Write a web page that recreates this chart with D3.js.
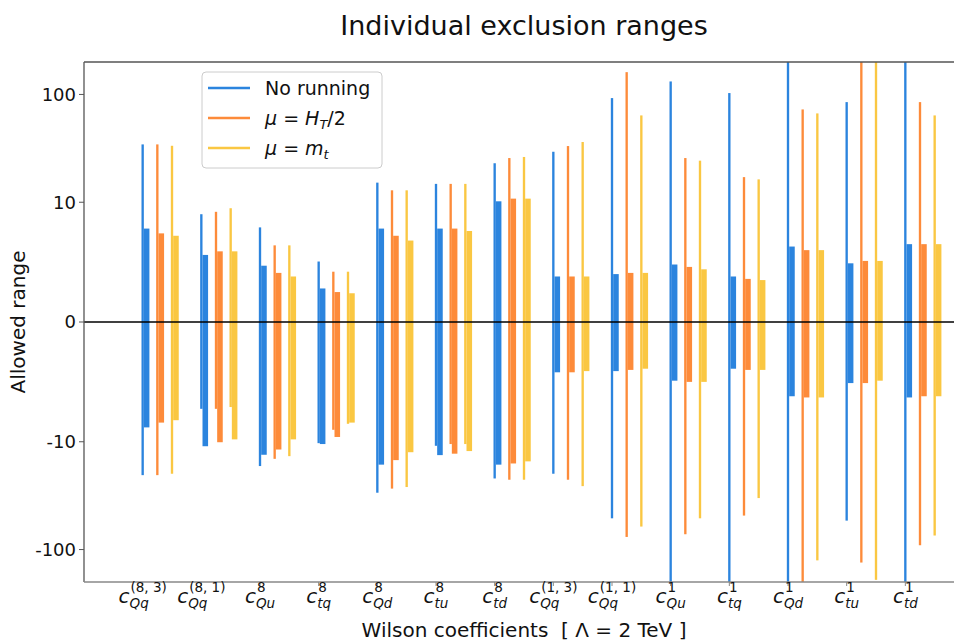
<!DOCTYPE html>
<html>
<head>
<meta charset="utf-8">
<script src="https://cdn.jsdelivr.net/npm/d3@7"></script>
<style>
  body { margin: 0; background: #fff; }
  svg { font-family: "DejaVu Sans", sans-serif; }
</style>
</head>
<body>
<svg width="954" height="641"></svg>
<script>
// tick labels: c_{sub}^{sup}
var labelSup = ["(8, 3)", "(8, 1)", "8", "8", "8", "8", "8", "(1, 3)", "(1, 1)", "1", "1", "1", "1", "1"];
var labelSub = ["Qq", "Qq", "Qu", "tq", "Qd", "tu", "td", "Qq", "Qq", "Qu", "tq", "Qd", "tu", "td"];
var yTicks = [-100, -10, 0, 10, 100];

// No running: thin line range and thick bar range
var noRunLineHi = [34.4, 9.0, 7.9, 5.05, 15.2, 14.8, 23.0, 29.4, 92.5, 132, 103, 250, 84.9, 250];
var noRunLineLo = [-20.4, -7.25, -16.8, -10.3, -29.7, -10.9, -21.9, -19.8, -51.3, -250, -250, -250, -53.9, -250];
var noRunBarHi = [7.8, 5.6, 4.7, 2.8, 7.8, 7.8, 10.2, 3.8, 4.0, 4.8, 3.8, 6.3, 4.9, 6.5];
var noRunBarLo = [-8.8, -11.0, -13.2, -10.5, -16.3, -13.3, -16.3, -4.2, -4.1, -4.9, -3.9, -6.2, -5.1, -6.3];

// mu = H_T/2
var htLineHi = [34.4, 9.2, 6.4, 4.2, 12.9, 14.8, 25.7, 33.2, 161, 25.7, 17.1, 72.6, 250, 84.9];
var htLineLo = [-20.4, -7.25, -14.4, -9.0, -27.2, -10.5, -22.5, -22.5, -76.4, -72.1, -48.4, -250, -132, -91.2];
var htBarHi = [7.4, 5.9, 4.1, 2.5, 7.2, 7.8, 10.8, 3.8, 4.1, 4.6, 3.6, 6.0, 5.1, 6.5];
var htBarLo = [-8.4, -10.1, -11.8, -9.6, -14.8, -12.9, -15.9, -4.2, -4.0, -5.0, -4.0, -6.3, -5.1, -6.2];

// mu = m_t
var mtLineHi = [33.4, 9.5, 6.4, 4.2, 12.9, 14.8, 26.3, 36.2, 63.9, 24.3, 16.3, 66.7, 250, 63.9];
var mtLineLo = [-19.8, -7.1, -13.6, -8.5, -26.3, -10.5, -22.5, -25.8, -61.2, -51.3, -33.3, -126, -191, -74.1];
var mtBarHi = [7.2, 5.9, 3.8, 2.4, 6.8, 7.6, 10.8, 3.8, 4.1, 4.4, 3.5, 6.0, 5.1, 6.5];
var mtBarLo = [-8.2, -9.8, -9.8, -8.4, -12.5, -12.2, -15.2, -4.1, -3.9, -5.0, -4.0, -6.3, -4.9, -6.2];

var series = [
  {name: "No running", color: "#2b84de", lineHi: noRunLineHi, lineLo: noRunLineLo, barHi: noRunBarHi, barLo: noRunBarLo},
  {name: "ht", color: "#fd8b3a", lineHi: htLineHi, lineLo: htLineLo, barHi: htBarHi, barLo: htBarLo},
  {name: "mt", color: "#fac742", lineHi: mtLineHi, lineLo: mtLineLo, barHi: mtBarHi, barLo: mtBarLo}
];

var margin = {left: 84, right: -10, top: 62, bottom: 59};
var width = 954, height = 641;

// matplotlib style symlog, linthresh 10, linscale 1
var linthresh = 10, linscale = 1 / (1 - 1 / 10);
function symlog(v) {
  var a = Math.abs(v);
  if (a <= linthresh) return v / linthresh * linscale;
  return Math.sign(v) * (linscale + Math.log10(a / linthresh));
}

var xs = d3.scaleLinear().domain([-1, 14]).range([margin.left, width - margin.right]);
var yl = d3.scaleLinear().domain([symlog(-200), symlog(200)]).range([height - margin.bottom, margin.top]);
var y = v => yl(symlog(v));

var svg = d3.select("svg");

svg.append("clipPath").attr("id", "plot")
  .append("rect")
  .attr("x", margin.left).attr("y", margin.top)
  .attr("width", width - margin.right - margin.left)
  .attr("height", height - margin.bottom - margin.top);

var plot = svg.append("g").attr("clip-path", "url(#plot)");

var offsets = [0, 0.25, 0.5];
var thinW = 0.04, thickW = 0.095;

series.forEach((s, k) => {
  var g = plot.append("g").attr("fill", s.color);
  g.selectAll("rect.line")
    .data(d3.range(labelSub.length))
    .enter().append("rect")
    .attr("class", "line")
    .attr("x", i => xs(i + offsets[k] - thinW / 2))
    .attr("width", xs(thinW) - xs(0))
    .attr("y", i => y(s.lineHi[i]))
    .attr("height", i => y(s.lineLo[i]) - y(s.lineHi[i]));
  g.selectAll("rect.bar")
    .data(d3.range(labelSub.length))
    .enter().append("rect")
    .attr("class", "bar")
    .attr("x", i => xs(i + offsets[k] + thinW / 2))
    .attr("width", xs(thickW) - xs(0))
    .attr("y", i => y(s.barHi[i]))
    .attr("height", i => y(s.barLo[i]) - y(s.barHi[i]));
});

// zero line
plot.append("line")
  .attr("x1", margin.left).attr("x2", width)
  .attr("y1", y(0)).attr("y2", y(0))
  .attr("stroke", "#000").attr("stroke-width", 1.3);

// spines
var plotTop = margin.top, plotBot = height - margin.bottom;
svg.append("line").attr("x1", margin.left).attr("x2", width).attr("y1", plotTop).attr("y2", plotTop)
  .attr("stroke", "#555").attr("stroke-width", 1.3);
svg.append("line").attr("x1", margin.left).attr("x2", margin.left).attr("y1", plotTop).attr("y2", plotBot)
  .attr("stroke", "#555").attr("stroke-width", 1.3);
svg.append("line").attr("x1", margin.left).attr("x2", width).attr("y1", plotBot).attr("y2", plotBot)
  .attr("stroke", "#888").attr("stroke-width", 1.5);

// y axis
var yAxis = svg.append("g");
yTicks.forEach(t => {
  yAxis.append("line")
    .attr("x1", margin.left - 5).attr("x2", margin.left)
    .attr("y1", y(t)).attr("y2", y(t))
    .attr("stroke", "#555").attr("stroke-width", 1);
  yAxis.append("text")
    .attr("x", margin.left - 8).attr("y", y(t))
    .attr("dy", "0.35em")
    .attr("text-anchor", "end")
    .attr("font-size", 18)
    .attr("fill", "#111")
    .text(t);
});

// x axis ticks and math labels
var xAxis = svg.append("g");
labelSub.forEach((sub, i) => {
  var cx = xs(i);
  xAxis.append("line")
    .attr("x1", cx).attr("x2", cx).attr("y1", plotBot).attr("y2", plotBot + 4)
    .attr("stroke", "#888").attr("stroke-width", 1);
  var lg = xAxis.append("g");
  var c = lg.append("text").attr("x", 0).attr("y", 603)
    .attr("font-size", 20).attr("font-style", "italic").attr("fill", "#111").text("c");
  var cw = c.node().getComputedTextLength();
  var sp = lg.append("text").attr("x", cw + 1).attr("y", 592)
    .attr("font-size", 13.5).attr("fill", "#111").text(labelSup[i]);
  var sb = lg.append("text").attr("x", cw).attr("y", 608)
    .attr("font-size", 13.5).attr("font-style", "italic").attr("fill", "#111").text(sub);
  var w = cw + Math.max(sp.node().getComputedTextLength() + 1, sb.node().getComputedTextLength());
  lg.attr("transform", `translate(${cx - w / 2},0)`);
});

// titles
svg.append("text")
  .attr("x", 524).attr("y", 35)
  .attr("text-anchor", "middle")
  .attr("font-size", 27)
  .attr("fill", "#111")
  .text("Individual exclusion ranges");

svg.append("text")
  .attr("x", 524).attr("y", 637)
  .attr("text-anchor", "middle")
  .attr("font-size", 20)
  .attr("fill", "#111")
  .attr("xml:space", "preserve")
  .text("Wilson coefficients  [ \u039b = 2 TeV ]");

svg.append("text")
  .attr("transform", `translate(25,${y(0)}) rotate(-90)`)
  .attr("text-anchor", "middle")
  .attr("font-size", 20)
  .attr("fill", "#111")
  .text("Allowed range");

// legend
var legend = svg.append("g").attr("transform", "translate(202,72)");
legend.append("rect")
  .attr("width", 180).attr("height", 96).attr("rx", 4)
  .attr("fill", "#fff").attr("fill-opacity", 0.8)
  .attr("stroke", "#ccc").attr("stroke-width", 1);

var rows = legend.selectAll("g.row")
  .data(series)
  .enter().append("g")
  .attr("class", "row")
  .attr("transform", (d, i) => `translate(0,${16 + i * 30})`);

rows.append("line")
  .attr("x1", 6).attr("x2", 48)
  .attr("stroke", d => d.color).attr("stroke-width", 2.5);

var lt = rows.append("text")
  .attr("x", 63).attr("y", 7)
  .attr("font-size", 19)
  .attr("fill", "#111");

lt.filter((d, i) => i == 0).text(d => d.name);

var ht = lt.filter((d, i) => i == 1);
ht.append("tspan").attr("font-style", "italic").text("\u03bc");
ht.append("tspan").text(" = ");
ht.append("tspan").attr("font-style", "italic").text("H");
ht.append("tspan").attr("font-style", "italic").attr("font-size", 13).attr("dy", 4).text("T");
ht.append("tspan").attr("dy", -4).text("/2");

var mt = lt.filter((d, i) => i == 2);
mt.append("tspan").attr("font-style", "italic").text("\u03bc");
mt.append("tspan").text(" = ");
mt.append("tspan").attr("font-style", "italic").text("m");
mt.append("tspan").attr("font-style", "italic").attr("font-size", 13).attr("dy", 4).text("t");
</script>
</body>
</html>
